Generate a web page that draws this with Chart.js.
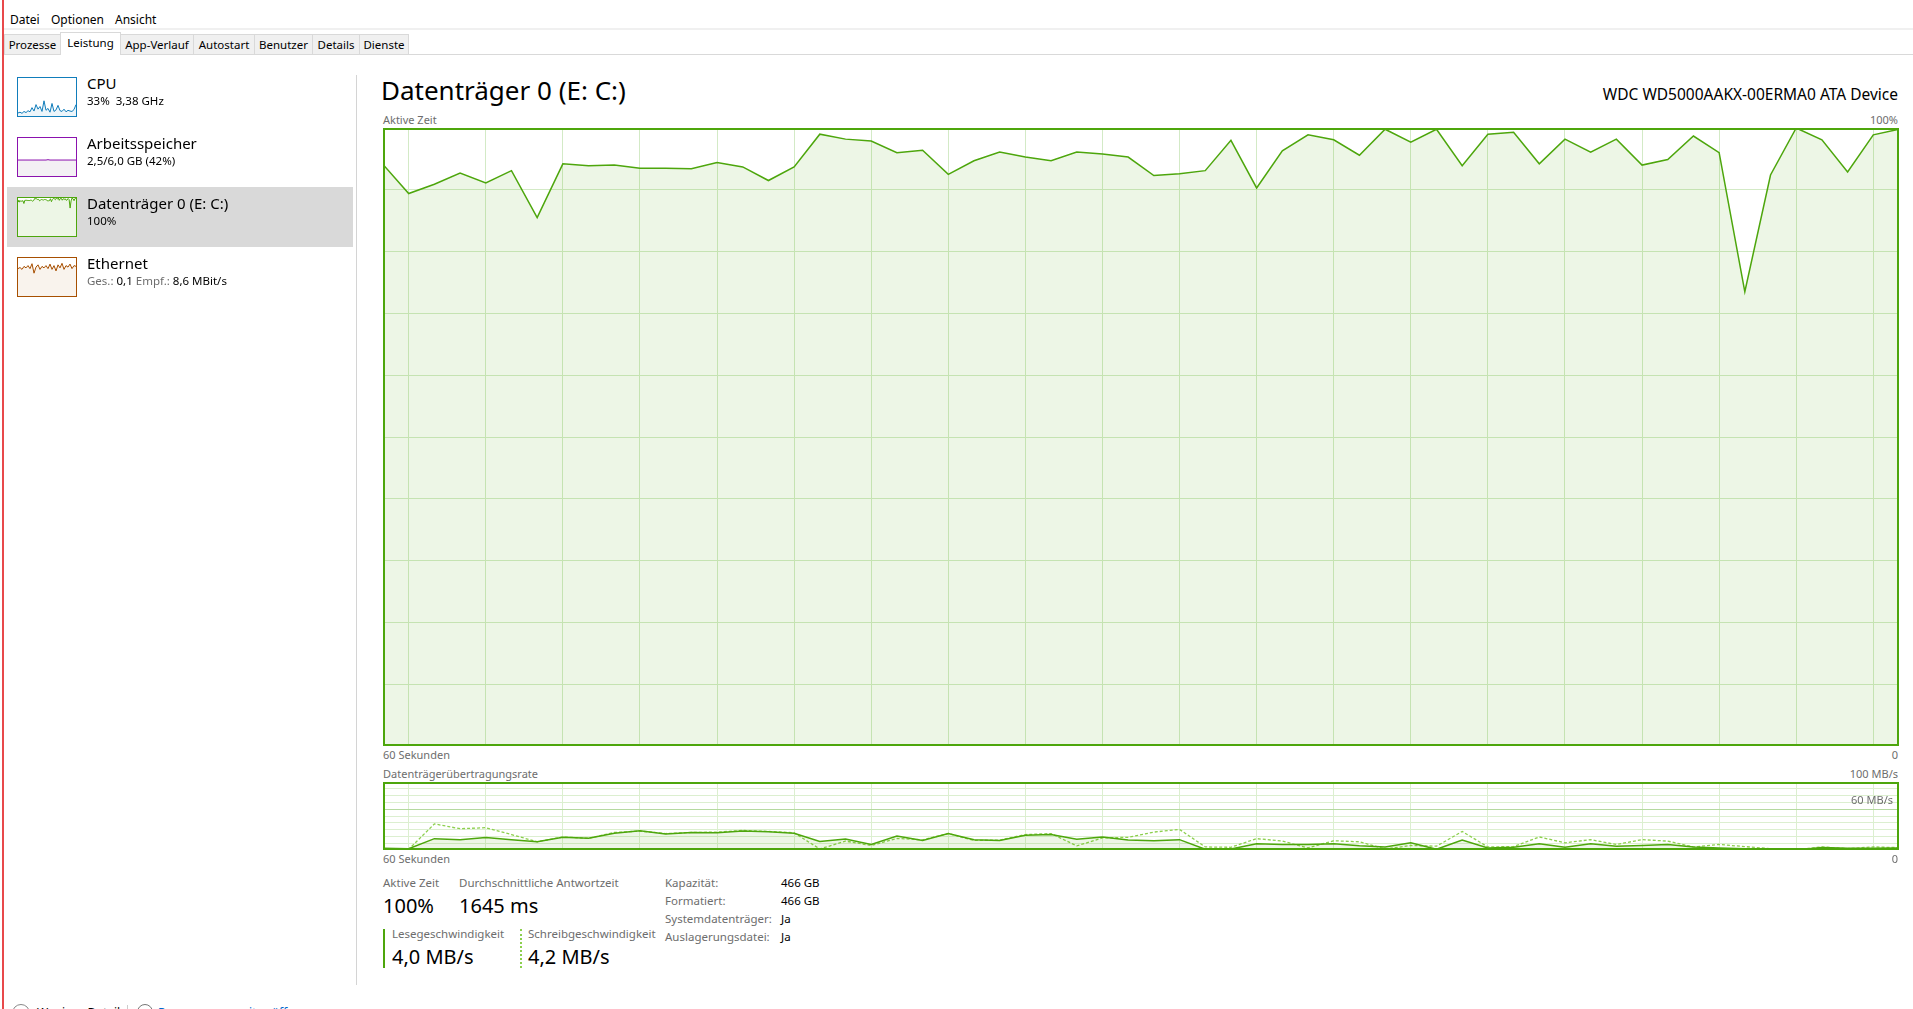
<!DOCTYPE html>
<html lang="de">
<head>
<meta charset="utf-8">
<title>Task-Manager – Datenträger 0 (E: C:)</title>
<script src="https://cdn.jsdelivr.net/npm/chart.js@4.4.1/dist/chart.umd.min.js"></script>
<style>
  html, body { margin: 0; padding: 0; }
  body {
    width: 1913px; height: 1009px; overflow: hidden; position: relative;
    background: #fff; color: #000;
    font-family: "Noto Sans", "Open Sans", sans-serif; font-size: 12px;
  }
  .t { position: absolute; white-space: nowrap; line-height: 1; }
  .r { text-align: right; }
  .grau { color: #6d6d6d; }
  .box { position: absolute; }
  .tab {
    position: absolute; top: 34px; height: 20px; box-sizing: border-box;
    background: #f0f0f0; border: 1px solid #d9d9d9; border-bottom: none;
    font-size: 11.5px; line-height: 19px; text-align: center;
  }
  .tab.aktiv { top: 32px; height: 23px; background: #fff; line-height: 20px; }
  .thumb { position: absolute; left: 17px; width: 60px; height: 40px; box-sizing: border-box; border: 1px solid; }
</style>
</head>
<body>

<!-- Fensterrand -->
<div class="box" style="left:2px;top:0;width:2px;height:1009px;background:#e8494b"></div>

<!-- Menü -->
<div class="t" style="left:10px;top:14px">Datei</div>
<div class="t" style="left:51px;top:14px">Optionen</div>
<div class="t" style="left:115px;top:14px">Ansicht</div>
<div class="box" style="left:4px;top:28px;width:1909px;height:2px;background:#f0f0f0"></div>

<!-- Tabs -->
<div class="box" style="left:4px;top:54px;width:1909px;height:1px;background:#d9d9d9"></div>
<div class="tab" style="left:4px;width:57px">Prozesse</div>
<div class="tab aktiv" style="left:60px;width:61px">Leistung</div>
<div class="tab" style="left:120px;width:74px">App-Verlauf</div>
<div class="tab" style="left:193px;width:62px">Autostart</div>
<div class="tab" style="left:254px;width:59px">Benutzer</div>
<div class="tab" style="left:312px;width:48px">Details</div>
<div class="tab" style="left:359px;width:50px">Dienste</div>

<!-- linke Liste -->
<div class="box" style="left:7px;top:187px;width:346px;height:60px;background:#d9d9d9"></div>

<div class="thumb" style="top:77px;border-color:#117dbb;background:#fff"><canvas id="thCpu"></canvas></div>
<div class="t" style="left:87px;top:76px;font-size:15px">CPU</div>
<div class="t" style="left:87px;top:95px;font-size:11.5px">33%&nbsp; 3,38 GHz</div>

<div class="thumb" style="top:137px;border-color:#8b12ae;background:#fff"><canvas id="thMem"></canvas></div>
<div class="t" style="left:87px;top:136px;font-size:15px">Arbeitsspeicher</div>
<div class="t" style="left:87px;top:155px;font-size:11.5px">2,5/6,0 GB (42%)</div>

<div class="thumb" style="top:197px;border-color:#4da60c;background:#fff"><canvas id="thDisk"></canvas></div>
<div class="t" style="left:87px;top:196px;font-size:15px">Datenträger 0 (E: C:)</div>
<div class="t" style="left:87px;top:215px;font-size:11.5px">100%</div>

<div class="thumb" style="top:257px;border-color:#a74f01;background:#fff"><canvas id="thNet"></canvas></div>
<div class="t" style="left:87px;top:256px;font-size:15px">Ethernet</div>
<div class="t" style="left:87px;top:275px;font-size:11.5px"><span class="grau">Ges.:</span> 0,1 <span class="grau">Empf.:</span> 8,6 MBit/s</div>

<div class="box" style="left:356px;top:75px;width:1px;height:910px;background:#d4d4d4"></div>

<!-- Kopf -->
<div class="t" style="left:381px;top:77px;font-size:26px">Datenträger 0 (E: C:)</div>
<div class="t r" style="right:15px;top:87px;font-size:15.5px">WDC WD5000AAKX-00ERMA0 ATA Device</div>

<div class="t grau" style="left:383px;top:114px;font-size:11px">Aktive Zeit</div>
<div class="t grau r" style="right:15px;top:114px;font-size:11px">100%</div>

<div class="box" style="left:383px;top:128px;width:1516px;height:618px"><canvas id="aktiv"></canvas></div>

<div class="t grau" style="left:383px;top:749px;font-size:11px">60 Sekunden</div>
<div class="t grau r" style="right:15px;top:749px;font-size:11px">0</div>
<div class="t grau" style="left:383px;top:768px;font-size:11px">Datenträgerübertragungsrate</div>
<div class="t grau r" style="right:15px;top:768px;font-size:11px">100 MB/s</div>

<div class="box" style="left:383px;top:782px;width:1516px;height:68px"><canvas id="rate"></canvas></div>
<div class="t grau r" style="right:20px;top:794px;font-size:11px">60 MB/s</div>

<div class="t grau" style="left:383px;top:853px;font-size:11px">60 Sekunden</div>
<div class="t grau r" style="right:15px;top:853px;font-size:11px">0</div>

<!-- Kennzahlen -->
<div class="t grau" style="left:383px;top:877px;font-size:11.5px">Aktive Zeit</div>
<div class="t grau" style="left:459px;top:877px;font-size:11.5px">Durchschnittliche Antwortzeit</div>
<div class="t" style="left:383px;top:896px;font-size:20px">100%</div>
<div class="t" style="left:459px;top:896px;font-size:20px">1645 ms</div>

<div class="box" style="left:383px;top:929px;width:2px;height:39px;background:#4da60c"></div>
<div class="t grau" style="left:392px;top:928px;font-size:11.5px">Lesegeschwindigkeit</div>
<div class="t" style="left:392px;top:947px;font-size:20px">4,0 MB/s</div>

<div class="box" style="left:520px;top:929px;width:0;height:39px;border-left:2px dotted #8ccf4d"></div>
<div class="t grau" style="left:528px;top:928px;font-size:11.5px">Schreibgeschwindigkeit</div>
<div class="t" style="left:528px;top:947px;font-size:20px">4,2 MB/s</div>

<div class="t grau" style="left:665px;top:877px;font-size:11.5px">Kapazität:</div>
<div class="t grau" style="left:665px;top:895px;font-size:11.5px">Formatiert:</div>
<div class="t grau" style="left:665px;top:913px;font-size:11.5px">Systemdatenträger:</div>
<div class="t grau" style="left:665px;top:931px;font-size:11.5px">Auslagerungsdatei:</div>
<div class="t" style="left:781px;top:877px;font-size:11.5px">466 GB</div>
<div class="t" style="left:781px;top:895px;font-size:11.5px">466 GB</div>
<div class="t" style="left:781px;top:913px;font-size:11.5px">Ja</div>
<div class="t" style="left:781px;top:931px;font-size:11.5px">Ja</div>

<!-- Fußzeile (abgeschnitten) -->
<div class="box" style="left:12px;top:1004px;width:16px;height:16px;border:1px solid #888;border-radius:50%"></div>
<div class="t" style="left:37px;top:1007px">Weniger Details</div>
<div class="box" style="left:127px;top:1005px;width:1px;height:10px;background:#ccc"></div>
<div class="box" style="left:137px;top:1004px;width:14px;height:14px;border:1px solid #777;border-radius:50%"></div>
<div class="t" style="left:158px;top:1007px;color:#0066cc">Ressourcenmonitor öffnen</div>

<script>
// Zeitachse: 60 Sekunden, je ein Messpunkt
const sekunden = ['60','59','58','57','56','55','54','53','52','51','50','49','48','47','46','45','44','43','42','41',
  '40','39','38','37','36','35','34','33','32','31','30','29','28','27','26','25','24','23','22','21',
  '20','19','18','17','16','15','14','13','12','11','10','9','8','7','6','5','4','3','2','1'];

// Aktive Zeit in %
const aktiveZeit = [94.1, 89.4, 90.9, 92.7, 91.1, 93.1, 85.5, 94.2, 93.9, 94.0,
  93.5, 93.5, 93.4, 94.4, 93.7, 91.5, 93.7, 99.0, 98.2, 97.9,
  96.0, 96.4, 92.5, 94.7, 96.1, 95.3, 94.7, 96.1, 95.8, 95.3,
  92.3, 92.6, 93.1, 98.0, 90.3, 96.3, 98.9, 98.1, 95.6, 99.8,
  97.7, 99.8, 93.9, 99.0, 99.3, 94.2, 98.2, 96.1, 98.2, 94.0,
  94.9, 98.7, 96.0, 73.5, 92.4, 100, 98.1, 92.9, 98.9, 99.8];

// Übertragungsrate in MB/s
const lesen = [2.5, 2, 16.7, 15.2, 18.2, 15.2, 12.1, 18.7, 17.2, 24.7,
  28.3, 23.7, 25.8, 25.3, 27.8, 26.8, 24.7, 12.6, 16.2, 8.1,
  20.7, 14.1, 24.2, 15.2, 14.1, 21.7, 22.7, 15.7, 19.2, 14.6,
  13.6, 15.2, 1, 1.5, 9.1, 8.1, 8.1, 9.1, 6.1, 4.5,
  10.6, 1, 14.6, 3, 4, 9.1, 4, 9.1, 5.6, 6.6,
  8.1, 4.5, 3, 2, 0.5, 0, 3.5, 2.5, 2.5, 3];
const schreiben = [1.5, 1, 38.4, 31.3, 32.8, 22.7, 12.1, 19.2, 17.2, 25.8,
  27.8, 24.2, 25.8, 26.3, 28.8, 27.3, 25.3, 1.5, 13.1, 6.6,
  17, 15, 24.2, 14.1, 14.6, 22.7, 24.2, 6.1, 17.7, 18.7,
  26.3, 30.3, 4.5, 4, 16.7, 13.1, 3, 13.6, 12.1, 1.5,
  6.6, 5.6, 27.3, 4.5, 5, 19.2, 10.6, 15.2, 8.1, 15.2,
  13.1, 4.5, 8.1, 5, 2, 0.5, 4.5, 2, 4.5, 3.5];

// Miniaturen links (in % der Höhe)
const cpuMini = [8, 10, 7, 12, 9, 14, 11, 22, 13, 30, 18, 25, 12, 40, 15, 20, 10, 33, 12, 16,
  28, 14, 12, 18, 11, 15, 13, 12, 17, 30];
const ramMini = [42, 42, 42, 42, 42, 42, 42, 42, 42, 42, 42, 42, 42, 42, 42, 43, 42, 42, 42, 42,
  42, 42, 42, 42, 42, 42, 42, 42, 42, 42];
const netzMini = [72, 75, 70, 78, 74, 80, 72, 85, 60, 76, 82, 70, 78, 74, 80, 72, 84, 70, 80, 66,
  82, 74, 86, 70, 80, 76, 84, 72, 80, 78];

const gruen = '#4da60c';
const gruenFlaeche = 'rgba(77,166,12,0.10)';
const gitter = '#d3eac6';

// Rahmen um den Plotbereich
const rahmen = {
  id: 'rahmen',
  afterDraw(chart, args, opts) {
    const {ctx, chartArea: a} = chart;
    ctx.save();
    ctx.strokeStyle = opts.color;
    ctx.lineWidth = opts.width;
    const h = opts.width / 2;
    ctx.strokeRect(a.left + h, a.top + h, a.right - a.left - opts.width, a.bottom - a.top - opts.width);
    ctx.restore();
  }
};

function xAchse(farbe) {
  return {
    ticks: { display: false, autoSkip: false },
    grid: { drawTicks: false, color: c => (c.index % 3 === 1 ? farbe : 'transparent') },
    border: { display: false }
  };
}

new Chart(document.getElementById('aktiv'), {
  type: 'line',
  data: {
    labels: sekunden,
    datasets: [{
      data: aktiveZeit,
      borderColor: gruen,
      backgroundColor: gruenFlaeche,
      borderWidth: 1.5,
      fill: 'origin',
      pointRadius: 0,
      tension: 0
    }]
  },
  options: {
    responsive: true,
    maintainAspectRatio: false,
    animation: false,
    layout: { padding: 0 },
    plugins: { legend: { display: false }, tooltip: { enabled: false }, rahmen: { color: gruen, width: 2 } },
    scales: {
      x: xAchse(gitter),
      y: {
        min: 0, max: 100,
        ticks: { display: false, stepSize: 10 },
        grid: { drawTicks: false, color: gitter },
        border: { display: false }
      }
    }
  },
  plugins: [rahmen]
});

new Chart(document.getElementById('rate'), {
  type: 'line',
  data: {
    labels: sekunden,
    datasets: [
      {
        label: 'Lesen',
        data: lesen,
        borderColor: gruen,
        backgroundColor: gruenFlaeche,
        borderWidth: 1.5,
        fill: 'origin',
        pointRadius: 0,
        tension: 0
      },
      {
        label: 'Schreiben',
        data: schreiben,
        borderColor: '#8ccf4d',
        borderWidth: 1.3,
        borderDash: [3, 2],
        fill: false,
        pointRadius: 0,
        tension: 0
      }
    ]
  },
  options: {
    responsive: true,
    maintainAspectRatio: false,
    animation: false,
    layout: { padding: 0 },
    plugins: { legend: { display: false }, tooltip: { enabled: false }, rahmen: { color: gruen, width: 2 } },
    scales: {
      x: xAchse('#dcefd0'),
      y: {
        min: 0, max: 100,
        ticks: { display: false, stepSize: 10 },
        grid: { drawTicks: false, color: c => (c.tick.value === 60 ? '#b5d9a0' : '#dcefd0') },
        border: { display: false }
      }
    }
  },
  plugins: [rahmen]
});

// Miniaturdiagramme
function mini(id, werte, linie, flaeche) {
  new Chart(document.getElementById(id), {
    type: 'line',
    data: {
      labels: werte.map((_, i) => i),
      datasets: [{ data: werte, borderColor: linie, backgroundColor: flaeche, borderWidth: 1, fill: 'origin', pointRadius: 0, tension: 0 }]
    },
    options: {
      responsive: true,
      maintainAspectRatio: false,
      animation: false,
      layout: { padding: 0 },
      plugins: { legend: { display: false }, tooltip: { enabled: false } },
      scales: { x: { display: false }, y: { display: false, min: 0, max: 100 } }
    }
  });
}
mini('thCpu', cpuMini, '#117dbb', 'rgba(17,125,187,0.08)');
mini('thMem', ramMini, '#8b12ae', 'rgba(120,90,130,0.09)');
mini('thDisk', aktiveZeit, gruen, gruenFlaeche);
mini('thNet', netzMini, '#a74f01', 'rgba(167,79,1,0.07)');
</script>
</body>
</html>
